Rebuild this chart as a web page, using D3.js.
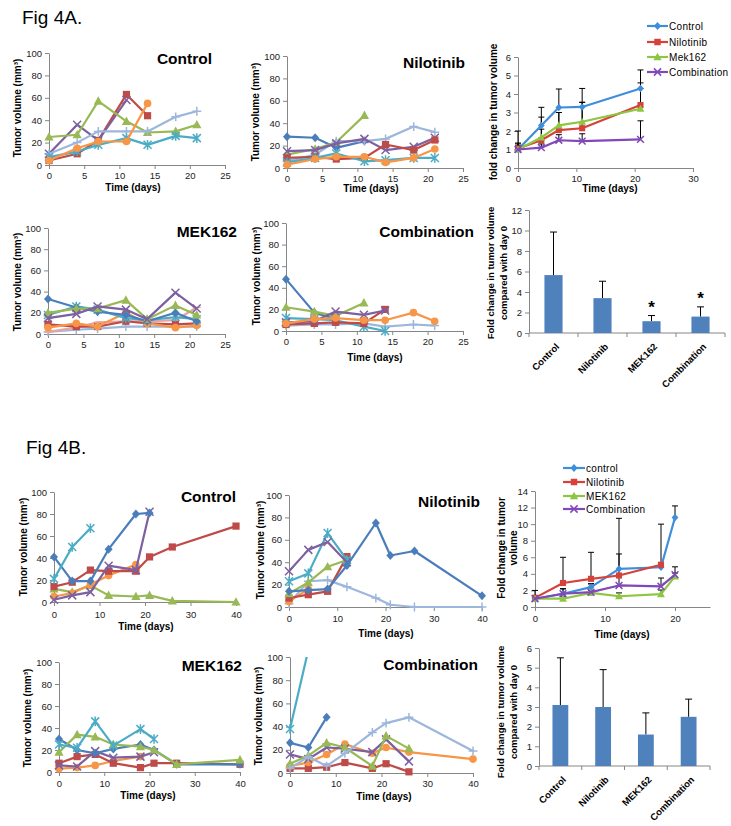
<!DOCTYPE html>
<html><head><meta charset="utf-8">
<script src="https://cdn.jsdelivr.net/npm/d3@7"></script>
<style>body{margin:0;background:#fff}svg{display:block}</style>
</head><body>
<svg id="c" width="731" height="826"></svg>
<script>
// ================= DATA =================
// ---- Fig 4A individual tumours (days) ----
const A_DAYS = [0, 4, 7, 11, 14, 18, 21];
// Control
const A_CTRL_RED    = [4, 10, 22, 63, 44];
const A_CTRL_PURPLE = [10, 36, 22, 58];
const A_CTRL_GREEN  = [25, 27, 57, 39, 29, 30, 36];
const A_CTRL_LTBLUE = [10, 20, 30, 30, 30, 43, 48];
const A_CTRL_ORANGE = [4, 15, 21, 21, 55];
const A_CTRL_AQUA   = [7, 12, 18, 24, 18, 26, 24];
// Nilotinib
const A_NIL_BLUE   = [28, 27, 18, 24];
const A_NIL_GREEN  = [12, 17, 23, 47];
const A_NIL_LTBLUE = [6, 12, 24, 24, 26, 37, 32];
const A_NIL_PURPLE = [15, 16, 22, 26, 16, 19, 27];
const A_NIL_RED    = [9, 10, 8, 9, 21, 16, 25];
const A_NIL_AQUA   = [5, 9, 13, 6, 7, 9, 9];
const A_NIL_ORANGE = [3, 8, 10, 10, 5, 9, 17];
// MEK162
const A_MEK_LTBLUE = [2, 4, 5, 7, 7, 7, 7];
const A_MEK_PINK   = [2, 6, 11, 12, 12, 13, 25];
const A_MEK_RED    = [9, 7, 7, 12, 10, 9, 10];
const A_MEK_ORANGE = [6, 10, 7, 20, 10, 6, 8];
const A_MEK_AQUA   = [18, 26, 23, 15, 13, 16, 14];
const A_MEK_BLUE   = [33, 25, 21, 18, 12, 20, 12];
const A_MEK_GREEN  = [20, 24, 24, 32, 14, 27, 18];
const A_MEK_PURPLE = [15, 19, 26, 23, 14, 39, 24];
// Combination
const A_COM_LTBLUE = [5, 6, 6, 7, 4, 6, 5];
const A_COM_AQUA   = [12, 11, 10, 4, 0];
const A_COM_BLUE   = [48, 17, 11];
const A_COM_GREEN  = [22, 18, 14, 26];
const A_COM_RED    = [6, 7, 8, 7, 20];
const A_COM_PURPLE = [8, 9, 18, 15, 19];
const A_COM_ORANGE = [7, 11, 12, 10, 10, 17, 9];

// ---- Fig 4A fold change (mean, upper error) ----
const AF_DAYS = [0, 4, 7, 11, 21];
const AF_CONTROL     = [1.0, 2.3, 3.27, 3.3, 4.3];
const AF_CONTROL_ERR = [1.0, 0.98, 1.0, 1.0, 1.0];
const AF_NIL         = [1.05, 1.5, 2.05, 2.15, 3.4];
const AF_NIL_ERR     = [0.3, 0.6, 0.95, 1.4, 1.2];
const AF_MEK         = [1.0, 1.65, 2.3, 2.5, 3.2];
const AF_MEK_ERR     = [0.3, 1.1, 0.7, 1.05, 1.1];
const AF_COMBO       = [1.0, 1.1, 1.5, 1.45, 1.55];
const AF_COMBO_ERR   = [0.2, 0.2, 0.3, 0.4, 1.0];
const AF_LEGEND = ['Control', 'Nilotinib', 'Mek162', 'Combination'];

// ---- Fig 4A bars ----
const BAR_CATS = ['Control', 'Nilotinib', 'MEK162', 'Combination'];
const AB_VALS = [5.65, 3.4, 1.15, 1.6];
const AB_ERR  = [4.2, 1.65, 0.55, 0.95];
const AB_SIG  = ['', '', '*', '*'];

// ---- Fig 4B individual tumours (days) ----
const B_DAYS = [0, 4, 8, 12, 18, 21, 26, 40];
// Control
const B_CTRL_GREEN  = [12, 9, 15, 6, 5, 6, 1, 0];
const B_CTRL_ORANGE = [5, 8, 16, 24, 34];
const B_CTRL_RED    = [14, 18, 29, 28, 28, 41, 50, 69];
const B_CTRL_PURPLE = [2, 6, 9, 33, 29, 82];
const B_CTRL_BLUE   = [41, 19, 19, 48, 80, 81];
const B_CTRL_AQUA   = [21, 50, 67];
// Nilotinib
const B_NIL_LTBLUE = [3, 23, 24, 18, 8, 2, 0, 0];
const B_NIL_ORANGE = [5, 16];
const B_NIL_RED    = [8, 11, 14, 45];
const B_NIL_GREEN  = [12, 22, 36, 42];
const B_NIL_AQUA   = [23, 30, 66, 42];
const B_NIL_PURPLE = [32, 51, 58, 40];
const B_NIL_BLUE   = [14, 15, 16, 37, 75, 46, 50, 10];
// MEK162
const B_MEK_ORANGE = [3, 4, 6, 10, 14];
const B_MEK_RED    = [8, 14, 16, 8, 4, 8, 8, 7];
const B_MEK_PURPLE = [6, 5, 19, 13, 14, 18];
const B_MEK_BLUE   = [30, 20, 17, 21, 25, 20, 7, 7];
const B_MEK_GREEN  = [18, 34, 32, 25, 23, 20, 7, 11];
const B_MEK_AQUA   = [25, 22, 46, 24, 39, 30];
// Combination
const B_COM_RED    = [4, 4, 5, 9, 4, 8, 1];
const B_COM_ORANGE = [6, 9, 16, 25, 17, 22, 18, 12];
const B_COM_PURPLE = [16, 12, 22, 21, 18, 29, 10];
const B_COM_GREEN  = [8, 15, 26, 22, 6, 32, 21];
const B_COM_LTBLUE = [4, 14, 6, 17, 35, 43, 48, 19];
const B_COM_BLUE   = [26, 22, 48];
const B_COM_AQUA   = [38, 106];

// ---- Fig 4B fold change ----
const BF_DAYS = [0, 4, 8, 12, 18, 20];
const BF_CONTROL     = [1.0, 1.6, 2.4, 4.6, 4.8, 10.8];
const BF_CONTROL_ERR = [1.0, 0.6, 0.4, 1.8, 0.3, 1.4];
const BF_NIL         = [1.1, 2.9, 3.4, 3.8, 5.1];
const BF_NIL_ERR     = [0.3, 3.1, 3.2, 6.9, 4.9];
const BF_MEK         = [1.0, 1.0, 1.7, 1.3, 1.55, 3.7];
const BF_MEK_ERR     = [0.2, 0.3, 0.3, 0.4, 0.5, 0.4];
const BF_COMBO       = [1.0, 1.6, 1.8, 2.6, 2.5, 3.9];
const BF_COMBO_ERR   = [0.2, 0.6, 1.0, 1.0, 1.0, 0.95];
const BF_LEGEND = ['control', 'Nilotinib', 'MEK162', 'Combination'];

// ---- Fig 4B bars ----
const BB_VALS = [3.1, 3.0, 1.6, 2.5];
const BB_ERR  = [2.4, 1.9, 1.1, 0.9];

// ---- tick values ----
const TICKS_100 = [0, 20, 40, 60, 80, 100];
const TICKS_X25 = [0, 5, 10, 15, 20, 25];
const TICKS_X40 = [0, 10, 20, 30, 40];

// ================= STYLE =================
const COL = {blue:'#4A7EBB', red:'#BE4B48', green:'#98B954', purple:'#7D60A0',
             aqua:'#4BACC6', orange:'#F79646', ltblue:'#9DB7DC', pink:'#E6A5A3'};
const MRK = {blue:'diamond', red:'square', green:'triangle', purple:'x',
             aqua:'star', orange:'circle', ltblue:'plus', pink:'dash'};
const FOLD_COL = ['#3F8EDB', '#D6423B', '#8DC641', '#8048B8'];
const FOLD_MRK = ['diamond', 'square', 'triangle', 'x'];
const FONT = "'Liberation Sans', Arial, sans-serif";
const AXC = '#868686';

const svg = d3.select('#c');
const defs = svg.append('defs');
let clipN = 0;
function addClip(x, y, w, h) {
  const id = 'cp' + (clipN++);
  defs.append('clipPath').attr('id', id).append('rect')
    .attr('x', x).attr('y', y).attr('width', w).attr('height', h);
  return id;
}

function drawMarker(g, type, color, x, y, s) {
  const sw = 1.5;
  if (type === 'diamond') {
    g.append('path').attr('d', `M${x},${y-4.5*s}L${x+4*s},${y}L${x},${y+4.5*s}L${x-4*s},${y}Z`).attr('fill', color);
  } else if (type === 'square') {
    g.append('rect').attr('x', x-3.6*s).attr('y', y-3.6*s).attr('width', 7.2*s).attr('height', 7.2*s).attr('fill', color);
  } else if (type === 'triangle') {
    g.append('path').attr('d', `M${x},${y-4.8*s}L${x+4.6*s},${y+3.6*s}L${x-4.6*s},${y+3.6*s}Z`).attr('fill', color);
  } else if (type === 'circle') {
    g.append('circle').attr('cx', x).attr('cy', y).attr('r', 3.8*s).attr('fill', color);
  } else {
    let d = '';
    const r = 4*s;
    if (type === 'x' || type === 'star') d += `M${x-r},${y-r}L${x+r},${y+r}M${x-r},${y+r}L${x+r},${y-r}`;
    if (type === 'star') d += `M${x},${y-r*1.2}L${x},${y+r*1.2}`;
    if (type === 'plus') d += `M${x-r*1.1},${y}L${x+r*1.1},${y}M${x},${y-r*1.1}L${x},${y+r*1.1}`;
    if (type === 'dash') d += `M${x-r},${y}L${x+r},${y}`;
    g.append('path').attr('d', d).attr('stroke', color).attr('stroke-width', sw).attr('fill', 'none');
  }
}

function styleAxis(ax, fs) {
  ax.select('.domain').attr('stroke', AXC).attr('stroke-width', 1);
  ax.selectAll('.tick line').attr('stroke', AXC);
  ax.selectAll('.tick text').attr('fill', '#222').style('font-family', FONT).style('font-size', fs + 'px');
}

function text(x, y, str, opt) {
  const t = svg.append('text').attr('x', x).attr('y', y).text(str)
    .style('font-family', FONT).style('font-size', (opt.size || 10) + 'px')
    .style('font-weight', opt.bold ? 'bold' : 'normal')
    .attr('text-anchor', opt.anchor || 'start').attr('fill', opt.fill || '#000');
  return t;
}
function vtext(cx, cy, lines, size, gap) {
  const g = svg.append('g').attr('transform', `translate(${cx},${cy}) rotate(-90)`);
  const lh = gap || size * 1.15;
  lines.forEach((l, i) => {
    g.append('text').attr('x', 0).attr('y', (i - (lines.length - 1) / 2) * lh).attr('dy', '0.35em')
      .attr('text-anchor', 'middle').style('font-family', FONT).style('font-size', size + 'px')
      .style('font-weight', 'bold').text(l);
  });
}

function linePanel(o) {
  const x = d3.scaleLinear().domain(o.xDomain).range([o.x0, o.x1]);
  const y = d3.scaleLinear().domain(o.yDomain).range([o.y0, o.y1]);
  const ya = svg.append('g').attr('transform', `translate(${o.x0},0)`)
    .call(d3.axisLeft(y).tickValues(o.yTicks).tickSize(4).tickSizeOuter(0).tickPadding(3).tickFormat(d3.format('d')));
  styleAxis(ya, 9.5);
  const xa = svg.append('g').attr('transform', `translate(0,${o.y0})`)
    .call(d3.axisBottom(x).tickValues(o.xTicks).tickSize(4).tickSizeOuter(0).tickPadding(o.xPad || 3).tickFormat(d3.format('d')));
  styleAxis(xa, 9.5);
  const cid = addClip(o.x0 - 8, o.y1, o.x1 - o.x0 + 16, o.y0 - o.y1 + 8);
  const g = svg.append('g').attr('clip-path', `url(#${cid})`);
  const line = d3.line().x(d => x(d[0])).y(d => y(d[1]));
  if (o.errs) {
    o.series.forEach((s, si) => {
      const e = o.errs[si];
      s.vals.forEach((v, i) => {
        const px = x(o.days[i]);
        g.append('path').attr('d', `M${px},${y(v)}V${y(v + e[i])}M${px-3},${y(v + e[i])}H${px+3}`)
          .attr('stroke', '#000').attr('stroke-width', 1).attr('fill', 'none');
      });
    });
  }
  o.series.forEach(s => {
    const pts = s.vals.map((v, i) => [o.days[i], v]);
    g.append('path').attr('d', line(pts)).attr('fill', 'none').attr('stroke', s.color)
      .attr('stroke-width', o.lw || 2.2).attr('stroke-linejoin', 'round');
    pts.forEach(p => drawMarker(g, s.marker, s.color, x(p[0]), y(p[1]), o.ms || 1));
  });
  if (o.title) text(o.titleX, o.titleY, o.title, {size: 15.5, bold: true, anchor: 'end'});
  if (o.yTitle) vtext(o.yTitleX, o.yTitleY, o.yTitle, 10, o.yGap);
  if (o.xTitle) text(o.xTitleX, o.xTitleY, 'Time (days)', {size: 10, bold: true, anchor: 'middle'});
}

function sers(list) { return list.map(([k, v]) => ({color: COL[k], marker: MRK[k], vals: v})); }
function foldSers(list) { return list.map((v, i) => ({color: FOLD_COL[i], marker: FOLD_MRK[i], vals: v})); }

function legend(x0, x1, ys, labels) {
  labels.forEach((l, i) => {
    svg.append('line').attr('x1', x0).attr('x2', x1).attr('y1', ys[i]).attr('y2', ys[i])
      .attr('stroke', FOLD_COL[i]).attr('stroke-width', 2.2);
    drawMarker(svg, FOLD_MRK[i], FOLD_COL[i], (x0 + x1) / 2, ys[i], 0.9);
    text(x1 + 1, ys[i], l, {size: 10}).attr('dy', '0.35em').style('letter-spacing', '0.3px');
  });
}

function barPanel(o) {
  const x = d3.scaleBand().domain(BAR_CATS).range([o.x0, o.x1]).paddingInner(0.63).paddingOuter(0.315);
  const y = d3.scaleLinear().domain(o.yDomain).range([o.y0, o.y1]);
  const ya = svg.append('g').attr('transform', `translate(${o.x0},0)`)
    .call(d3.axisLeft(y).tickValues(o.yTicks).tickSize(4).tickSizeOuter(0).tickPadding(3).tickFormat(d3.format('d')));
  styleAxis(ya, 9.5);
  const step = x.step();
  svg.append('path').attr('d', `M${o.x0},${o.y0}H${o.x1}` + BAR_CATS.map((c, i) => `M${o.x0 + (i + 1) * step},${o.y0}v4`).join('') + `M${o.x0},${o.y0}v4`)
    .attr('stroke', AXC).attr('fill', 'none');
  BAR_CATS.forEach((c, i) => {
    const cx = x(c) + x.bandwidth() / 2;
    svg.append('path').attr('d', `M${cx},${y(o.vals[i])}V${y(o.vals[i] + o.errs[i])}M${cx-3.5},${y(o.vals[i] + o.errs[i])}H${cx+3.5}`)
      .attr('stroke', '#000').attr('stroke-width', 1).attr('fill', 'none');
    svg.append('rect').attr('x', x(c)).attr('y', y(o.vals[i])).attr('width', x.bandwidth())
      .attr('height', o.y0 - y(o.vals[i])).attr('fill', '#4F81BD');
    svg.append('text').attr('transform', `translate(${cx + 4},${o.y0 + 12}) rotate(-45)`)
      .attr('text-anchor', 'end').attr('dy', '0.35em').style('font-family', FONT).style('font-size', '9.5px')
      .style('font-weight', 'bold').text(c);
    if (o.sig && o.sig[i]) {
      text(cx, y(o.vals[i] + o.errs[i]) - 3, o.sig[i], {size: 17, bold: true, anchor: 'middle'});
    }
  });
  vtext(o.yTitleX, o.yTitleY, o.yTitle, 9.5, 13);
}

// ================= DRAW =================
text(22, 24, 'Fig 4A.', {size: 19});
text(26, 454, 'Fig 4B.', {size: 19});

const TV = ['Tumor volume (mm\u00B3)'];

// 4A Control
linePanel({x0: 49, x1: 225, y0: 165, y1: 53, xDomain: [0, 25], yDomain: [0, 100], xTicks: TICKS_X25, yTicks: TICKS_100,
  days: A_DAYS, series: sers([['red', A_CTRL_RED], ['purple', A_CTRL_PURPLE], ['green', A_CTRL_GREEN], ['ltblue', A_CTRL_LTBLUE], ['aqua', A_CTRL_AQUA], ['orange', A_CTRL_ORANGE]]),
  title: 'Control', titleX: 212, titleY: 64, yTitle: TV, yTitleX: 17, yTitleY: 108, xTitle: true, xTitleX: 133, xTitleY: 191});
// 4A Nilotinib
linePanel({x0: 287, x1: 463, y0: 168, y1: 56, xDomain: [0, 25], yDomain: [0, 100], xTicks: TICKS_X25, yTicks: TICKS_100,
  days: A_DAYS, series: sers([['blue', A_NIL_BLUE], ['green', A_NIL_GREEN], ['ltblue', A_NIL_LTBLUE], ['purple', A_NIL_PURPLE], ['red', A_NIL_RED], ['aqua', A_NIL_AQUA], ['orange', A_NIL_ORANGE]]),
  title: 'Nilotinib', titleX: 465, titleY: 68, yTitle: TV, yTitleX: 255, yTitleY: 112, xTitle: true, xTitleX: 371, xTitleY: 192});
// 4A fold change
linePanel({x0: 518, x1: 693, y0: 168, y1: 57, xDomain: [0, 30], yDomain: [0, 6], xTicks: [0, 10, 20, 30], yTicks: [0, 1, 2, 3, 4, 5, 6],
  days: AF_DAYS, series: foldSers([AF_CONTROL, AF_NIL, AF_MEK, AF_COMBO]), errs: [AF_CONTROL_ERR, AF_NIL_ERR, AF_MEK_ERR, AF_COMBO_ERR],
  ms: 0.85, yTitle: ['fold change in tumor volume'], yTitleX: 493, yTitleY: 112, xTitle: true, xTitleX: 610, xTitleY: 192});
legend(647, 668, [26, 42, 57, 72], AF_LEGEND);
// 4A MEK162
linePanel({x0: 48, x1: 225, y0: 334, y1: 228, xDomain: [0, 25], yDomain: [0, 100], xTicks: TICKS_X25, yTicks: TICKS_100,
  days: A_DAYS, series: sers([['ltblue', A_MEK_LTBLUE], ['pink', A_MEK_PINK], ['red', A_MEK_RED], ['orange', A_MEK_ORANGE], ['aqua', A_MEK_AQUA], ['blue', A_MEK_BLUE], ['green', A_MEK_GREEN], ['purple', A_MEK_PURPLE]]),
  title: 'MEK162', titleX: 237, titleY: 237, yTitle: TV, yTitleX: 17, yTitleY: 282});
// 4A Combination
linePanel({x0: 286, x1: 463, y0: 331, y1: 223, xDomain: [0, 25], yDomain: [0, 100], xTicks: TICKS_X25, yTicks: TICKS_100,
  days: A_DAYS, series: sers([['ltblue', A_COM_LTBLUE], ['aqua', A_COM_AQUA], ['blue', A_COM_BLUE], ['green', A_COM_GREEN], ['red', A_COM_RED], ['purple', A_COM_PURPLE], ['orange', A_COM_ORANGE]]),
  title: 'Combination', titleX: 474, titleY: 237, yTitle: TV, yTitleX: 256, yTitleY: 276, xTitle: true, xTitleX: 375, xTitleY: 361});
// 4A bars
barPanel({x0: 529, x1: 725, y0: 333, y1: 210, yDomain: [0, 12], yTicks: [0, 2, 4, 6, 8, 10, 12],
  vals: AB_VALS, errs: AB_ERR, sig: AB_SIG, yTitle: ['Fold change in tumor volume', 'compared with day 0'], yTitleX: 497, yTitleY: 273});

// 4B Control
linePanel({x0: 54, x1: 236, y0: 602, y1: 492, xDomain: [0, 40], yDomain: [0, 100], xTicks: TICKS_X40, yTicks: TICKS_100, xPad: 5,
  days: B_DAYS, series: sers([['green', B_CTRL_GREEN], ['orange', B_CTRL_ORANGE], ['red', B_CTRL_RED], ['purple', B_CTRL_PURPLE], ['blue', B_CTRL_BLUE], ['aqua', B_CTRL_AQUA]]),
  title: 'Control', titleX: 236, titleY: 502, yTitle: TV, yTitleX: 23, yTitleY: 547, xTitle: true, xTitleX: 146, xTitleY: 630});
// 4B Nilotinib
linePanel({x0: 289, x1: 482, y0: 607, y1: 495, xDomain: [0, 40], yDomain: [0, 100], xTicks: TICKS_X40, yTicks: TICKS_100, xPad: 4,
  days: B_DAYS, series: sers([['ltblue', B_NIL_LTBLUE], ['orange', B_NIL_ORANGE], ['red', B_NIL_RED], ['green', B_NIL_GREEN], ['aqua', B_NIL_AQUA], ['purple', B_NIL_PURPLE], ['blue', B_NIL_BLUE]]),
  title: 'Nilotinib', titleX: 480, titleY: 507, yTitle: TV, yTitleX: 260, yTitleY: 550, xTitle: true, xTitleX: 386, xTitleY: 637});
// 4B fold change
linePanel({x0: 535, x1: 710, y0: 607, y1: 491, xDomain: [0, 25], yDomain: [0, 14], xTicks: [0, 10, 20], yTicks: [0, 2, 4, 6, 8, 10, 12, 14], xPad: 4,
  days: BF_DAYS, series: foldSers([BF_CONTROL, BF_NIL, BF_MEK, BF_COMBO]), errs: [BF_CONTROL_ERR, BF_NIL_ERR, BF_MEK_ERR, BF_COMBO_ERR],
  ms: 0.85, yTitle: ['Fold change in tumor', 'volume'], yGap: 12, yTitleX: 507, yTitleY: 548, xTitle: true, xTitleX: 622, xTitleY: 638});
legend(563, 585, [468, 482, 496, 509], BF_LEGEND);
// 4B MEK162
linePanel({x0: 59, x1: 240, y0: 772, y1: 662, xDomain: [0, 40], yDomain: [0, 100], xTicks: TICKS_X40, yTicks: TICKS_100, xPad: 4,
  days: B_DAYS, series: sers([['orange', B_MEK_ORANGE], ['red', B_MEK_RED], ['purple', B_MEK_PURPLE], ['blue', B_MEK_BLUE], ['green', B_MEK_GREEN], ['aqua', B_MEK_AQUA]]),
  title: 'MEK162', titleX: 242, titleY: 671, yTitle: TV, yTitleX: 27, yTitleY: 718, xTitle: true, xTitleX: 148, xTitleY: 799});
// 4B Combination
linePanel({x0: 290, x1: 473, y0: 773, y1: 657, xDomain: [0, 40], yDomain: [0, 100], xTicks: TICKS_X40, yTicks: TICKS_100, xPad: 3,
  days: B_DAYS, series: sers([['red', B_COM_RED], ['orange', B_COM_ORANGE], ['purple', B_COM_PURPLE], ['green', B_COM_GREEN], ['ltblue', B_COM_LTBLUE], ['blue', B_COM_BLUE], ['aqua', B_COM_AQUA]]),
  title: 'Combination', titleX: 478, titleY: 670, yTitle: TV, yTitleX: 258, yTitleY: 716, xTitle: true, xTitleX: 384, xTitleY: 800});
// 4B bars
barPanel({x0: 539, x1: 710, y0: 766, y1: 648, yDomain: [0, 6], yTicks: [0, 1, 2, 3, 4, 5, 6],
  vals: BB_VALS, errs: BB_ERR, yTitle: ['Fold change in tumor volume', 'compared with day 0'], yTitleX: 507, yTitleY: 712});
</script>
</body></html>
